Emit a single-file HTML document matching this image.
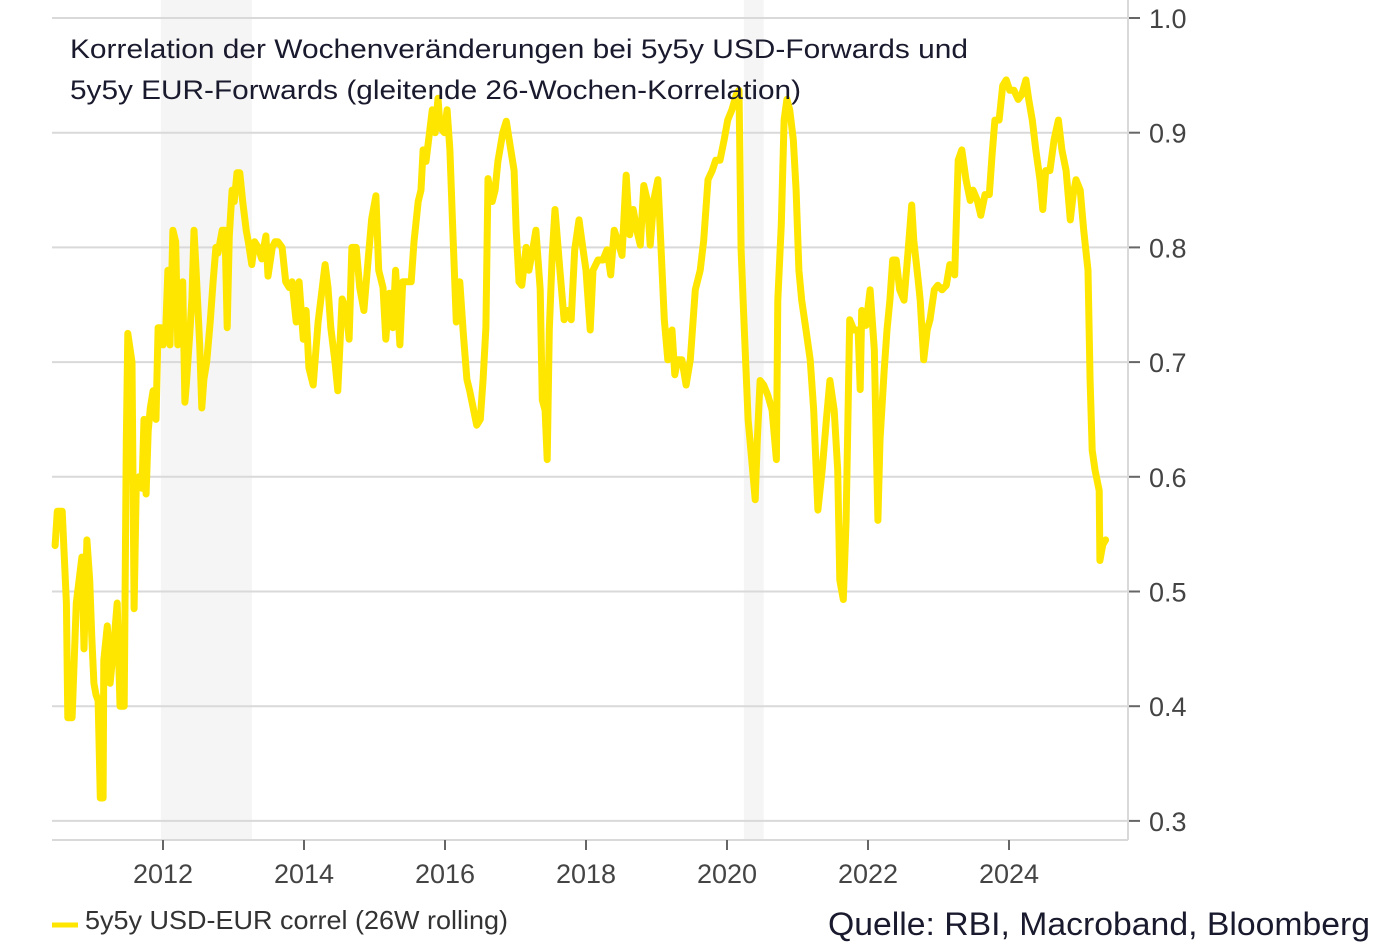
<!DOCTYPE html>
<html><head><meta charset="utf-8">
<style>
body{margin:0;background:#fff;width:1400px;height:951px;overflow:hidden;font-family:"Liberation Sans",sans-serif;}
svg{position:absolute;left:0;top:0}
</style></head>
<body>
<svg id="chart" width="1400" height="951"></svg>
<script>
const dates=[2010.47,2010.50,2010.57,2010.63,2010.65,2010.71,2010.77,2010.81,2010.85,2010.88,2010.92,2010.96,2010.99,2011.02,2011.05,2011.08,2011.11,2011.15,2011.16,2011.21,2011.25,2011.29,2011.35,2011.39,2011.45,2011.48,2011.50,2011.56,2011.59,2011.62,2011.66,2011.70,2011.73,2011.76,2011.79,2011.82,2011.86,2011.90,2011.93,2011.97,2012.00,2012.04,2012.07,2012.10,2012.14,2012.18,2012.21,2012.24,2012.28,2012.31,2012.33,2012.38,2012.41,2012.44,2012.47,2012.52,2012.55,2012.58,2012.62,2012.67,2012.71,2012.75,2012.78,2012.84,2012.88,2012.91,2012.94,2012.98,2013.01,2013.05,2013.09,2013.13,2013.18,2013.21,2013.26,2013.30,2013.35,2013.40,2013.46,2013.49,2013.55,2013.59,2013.63,2013.69,2013.74,2013.79,2013.83,2013.89,2013.93,2013.99,2014.03,2014.07,2014.13,2014.20,2014.24,2014.30,2014.34,2014.38,2014.44,2014.48,2014.54,2014.60,2014.64,2014.68,2014.74,2014.79,2014.85,2014.91,2014.96,2015.02,2015.06,2015.12,2015.16,2015.21,2015.26,2015.30,2015.36,2015.40,2015.46,2015.52,2015.56,2015.62,2015.66,2015.69,2015.73,2015.77,2015.82,2015.86,2015.90,2015.93,2015.99,2016.03,2016.07,2016.11,2016.16,2016.21,2016.26,2016.31,2016.35,2016.40,2016.45,2016.50,2016.54,2016.58,2016.61,2016.67,2016.71,2016.75,2016.82,2016.87,2016.92,2016.98,2017.01,2017.05,2017.09,2017.15,2017.19,2017.25,2017.29,2017.35,2017.38,2017.42,2017.45,2017.48,2017.52,2017.56,2017.63,2017.69,2017.74,2017.79,2017.84,2017.90,2017.94,2018.00,2018.06,2018.10,2018.17,2018.24,2018.30,2018.35,2018.40,2018.45,2018.51,2018.57,2018.62,2018.67,2018.72,2018.77,2018.82,2018.87,2018.91,2018.96,2019.02,2019.06,2019.11,2019.16,2019.22,2019.26,2019.30,2019.36,2019.42,2019.48,2019.55,2019.62,2019.67,2019.73,2019.79,2019.84,2019.90,2019.96,2020.01,2020.07,2020.13,2020.17,2020.20,2020.24,2020.30,2020.35,2020.40,2020.43,2020.47,2020.52,2020.58,2020.64,2020.70,2020.72,2020.77,2020.81,2020.85,2020.89,2020.94,2020.98,2021.02,2021.06,2021.12,2021.18,2021.23,2021.29,2021.35,2021.41,2021.46,2021.52,2021.57,2021.60,2021.65,2021.69,2021.74,2021.80,2021.86,2021.89,2021.91,2021.97,2022.03,2022.09,2022.14,2022.17,2022.23,2022.27,2022.31,2022.35,2022.40,2022.45,2022.51,2022.57,2022.62,2022.65,2022.71,2022.74,2022.79,2022.84,2022.88,2022.94,2022.99,2023.05,2023.11,2023.16,2023.23,2023.28,2023.33,2023.39,2023.45,2023.49,2023.55,2023.60,2023.66,2023.72,2023.76,2023.80,2023.86,2023.91,2023.96,2024.01,2024.07,2024.13,2024.18,2024.24,2024.28,2024.33,2024.38,2024.44,2024.48,2024.52,2024.58,2024.64,2024.70,2024.75,2024.81,2024.87,2024.91,2024.95,2025.01,2025.06,2025.12,2025.15,2025.18,2025.22,2025.28,2025.29,2025.33,2025.37];
const values=[.54,.57,.57,.49,.39,.39,.49,.51,.53,.45,.545,.51,.46,.42,.41,.405,.32,.32,.44,.47,.42,.445,.49,.40,.40,.63,.725,.70,.485,.59,.60,.59,.65,.585,.64,.66,.675,.65,.73,.73,.715,.73,.78,.715,.815,.805,.715,.755,.77,.665,.68,.725,.755,.815,.78,.715,.66,.685,.70,.735,.77,.80,.795,.815,.815,.73,.81,.85,.84,.865,.865,.84,.815,.805,.785,.805,.80,.79,.81,.775,.80,.805,.805,.80,.77,.765,.77,.735,.77,.72,.745,.695,.68,.735,.755,.785,.765,.73,.70,.675,.755,.745,.72,.80,.80,.765,.745,.79,.825,.845,.78,.765,.72,.76,.73,.78,.715,.77,.77,.77,.805,.84,.85,.885,.875,.895,.92,.90,.93,.905,.90,.92,.885,.815,.735,.77,.725,.685,.675,.66,.645,.65,.685,.73,.86,.84,.85,.875,.90,.91,.89,.867,.815,.77,.767,.80,.78,.80,.815,.763,.667,.658,.615,.728,.793,.833,.78,.737,.745,.737,.798,.824,.806,.78,.728,.78,.789,.789,.798,.776,.815,.806,.793,.863,.811,.833,.815,.802,.854,.841,.802,.841,.859,.806,.737,.702,.728,.689,.702,.702,.68,.702,.763,.78,.806,.859,.867,.876,.876,.894,.911,.92,.933,.937,.798,.737,.65,.615,.58,.632,.684,.68,.671,.658,.615,.754,.82,.911,.929,.92,.894,.85,.78,.754,.728,.702,.658,.571,.606,.65,.684,.658,.606,.51,.493,.562,.737,.728,.728,.676,.745,.732,.763,.711,.562,.632,.693,.728,.754,.789,.789,.763,.754,.798,.837,.806,.772,.754,.702,.728,.737,.763,.767,.763,.767,.785,.776,.876,.885,.859,.841,.85,.841,.828,.846,.846,.881,.911,.911,.941,.946,.937,.937,.929,.933,.946,.929,.911,.885,.859,.833,.867,.867,.894,.911,.885,.867,.824,.846,.859,.85,.815,.78,.684,.623,.606,.588,.527,.541,.545];
const yTicks=[0.3,0.4,0.5,0.6,0.7,0.8,0.9,1.0];
const xTicks=[2012,2014,2016,2018,2020,2022,2024];
const recessions=[[2011.97,2013.26],[2020.24,2020.52]];

const NS="http://www.w3.org/2000/svg";
const svg=document.getElementById('chart');
const X=y=>163+(y-2012)*70.5;
const Y=v=>18+(1.0-v)*1147;
function mk(tag,attrs,parent){const e=document.createElementNS(NS,tag);for(const k in attrs)e.setAttribute(k,attrs[k]);(parent||svg).appendChild(e);return e;}

recessions.forEach(r=>{
  const e=mk('rect',{x:X(r[0]),y:0,width:X(r[1])-X(r[0]),height:840,fill:'#f5f5f5'});
  
  
});
yTicks.forEach(t=>{
  const g=mk('line',{x1:52,x2:1128,y1:Y(t),y2:Y(t),stroke:'#d9d9d9','stroke-width':2});
  
  
  mk('line',{x1:1128,x2:1140,y1:Y(t),y2:Y(t),stroke:'#666','stroke-width':2});
  const tx=mk('text',{x:1149,y:Y(t)+10,'font-size':27,fill:'#444'});
  tx.textContent=t.toFixed(1);
  
  
});
mk('line',{x1:1128,x2:1128,y1:0,y2:840,stroke:'#d9d9d9','stroke-width':2});
mk('line',{x1:52,x2:1128,y1:840,y2:840,stroke:'#d9d9d9','stroke-width':2});
xTicks.forEach(t=>{
  mk('line',{x1:X(t),x2:X(t),y1:840,y2:850,stroke:'#666','stroke-width':2});
  const tx=mk('text',{x:X(t),y:883,'font-size':27,fill:'#444','text-anchor':'middle'});
  tx.textContent=t;
  
  
});
let d='';dates.forEach((t,i)=>{d+=(i?'L':'M')+X(t).toFixed(1)+' '+Y(values[i]).toFixed(1);});
const line=mk('path',{d:d,fill:'none',stroke:'#FFE600','stroke-width':7,'stroke-linejoin':'round','stroke-linecap':'round'});


</script>
<svg width="1400" height="951" style="pointer-events:none">
<text x="70" y="58" font-size="27" textLength="898" lengthAdjust="spacingAndGlyphs" fill="#1a1a2e">Korrelation der Wochenveränderungen bei 5y5y USD-Forwards und</text>
<text x="70" y="99" font-size="27" textLength="731" lengthAdjust="spacingAndGlyphs" fill="#1a1a2e">5y5y EUR-Forwards (gleitende 26-Wochen-Korrelation)</text>
<line x1="52" x2="78" y1="925" y2="925" stroke="#FFE600" stroke-width="5"/>
<text x="85" y="929" font-size="26" textLength="423" lengthAdjust="spacingAndGlyphs" fill="#333">5y5y USD-EUR correl (26W rolling)</text>
<text x="828" y="935" font-size="32" textLength="542" lengthAdjust="spacingAndGlyphs" fill="#1a1a2e">Quelle: RBI, Macroband, Bloomberg</text>
</svg>
</body></html>
